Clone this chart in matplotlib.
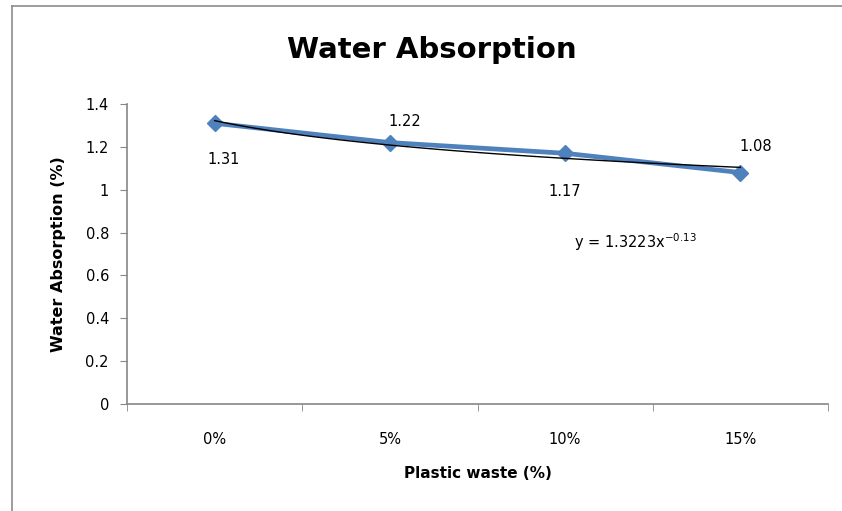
import matplotlib
matplotlib.use('Agg')
import matplotlib.pyplot as plt
import numpy as np

# water absorption vs plastic waste content
categories = ['0%', '5%', '10%', '15%']
absorption = [1.31, 1.22, 1.17, 1.08]
fit_a = 1.3223
fit_b = -0.13
yticks = [0, 0.2, 0.4, 0.6, 0.8, 1, 1.2, 1.4]
ytick_labels = ['0', '0.2', '0.4', '0.6', '0.8', '1', '1.2', '1.4']

fig = plt.figure(figsize=(8.42, 5.11), dpi=100)
ax = fig.add_axes([127/842, 1 - 404/511, 701/842, 300/511])

# outer chart border
fig.add_artist(plt.Line2D([12/842, 12/842], [0, 1 - 6/511], color='#8c8c8c', lw=1.2))
fig.add_artist(plt.Line2D([12/842, 1], [1 - 6/511, 1 - 6/511], color='#8c8c8c', lw=1.2))

x = np.arange(1, len(categories) + 1)
ax.plot(x, absorption, color='#4f81bd', lw=3.4, marker='D', markersize=8,
        markeredgecolor='#4f81bd', zorder=2)

# power trendline
xs = np.linspace(1, 4, 100)
ax.plot(xs, fit_a * xs ** fit_b, color='black', lw=1.0, zorder=3)

offsets = [(0.05, -0.17), (0.085, 0.1), (0, -0.18), (0.09, 0.12)]
for xi, yi, (dx, dy) in zip(x, absorption, offsets):
    ax.text(xi + dx, yi + dy, '%.2f' % yi, ha='center', va='center',
            fontsize=10.5, color='black', family='DejaVu Sans')

ax.text(3.05, 0.755, 'y = 1.3223x$^{-0.13}$', fontsize=10.5, ha='left',
        va='center', family='DejaVu Sans')

ax.set_xlim(0.5, 4.5)
ax.set_ylim(0, 1.4)
ax.set_yticks(yticks)
ax.set_yticklabels(ytick_labels, fontsize=10.5)
ax.set_xticks(x)
ax.set_xticklabels(categories, fontsize=10.5)
ax.set_xticks([0.5, 1.5, 2.5, 3.5, 4.5], minor=True)
ax.tick_params(axis='x', which='major', length=0, pad=20)
ax.tick_params(axis='x', which='minor', length=5, direction='out', color='#868686')
ax.tick_params(axis='y', length=5, direction='out', color='#868686', pad=8)

for side in ['top', 'right']:
    ax.spines[side].set_visible(False)
for side in ['left', 'bottom']:
    ax.spines[side].set_color('#868686')
    ax.spines[side].set_linewidth(1.2)

ax.set_xlabel('Plastic waste (%)', fontsize=11, fontweight='bold', labelpad=14)
ax.set_ylabel('Water Absorption (%)', fontsize=11.5, fontweight='bold', labelpad=14)
fig.text(432/842, 1 - 50/511, 'Water Absorption', fontsize=21, fontweight='bold',
         ha='center', va='center')

fig.savefig('out.png', dpi=100)
